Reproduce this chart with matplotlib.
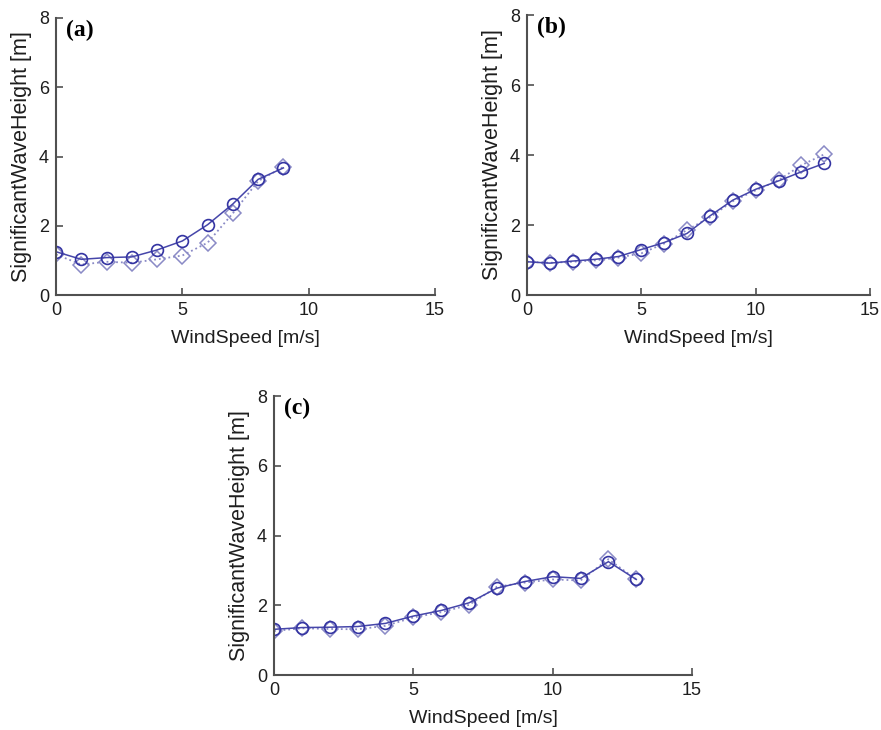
import numpy as np
import matplotlib
matplotlib.use("Agg")
import matplotlib.pyplot as plt

plt.rcParams['font.family'] = ['Liberation Sans', 'DejaVu Sans']

# wind speed bins [m/s]
wind_a = [0, 1, 2, 3, 4, 5, 6, 7, 8, 9]
wind_bc = [0, 1, 2, 3, 4, 5, 6, 7, 8, 9, 10, 11, 12, 13]

# panel (a)
hs_a_solid = [1.25, 1.03, 1.08, 1.10, 1.30, 1.56, 2.03, 2.63, 3.34, 3.67]
hs_a_dot = [1.17, 0.88, 0.96, 0.93, 1.03, 1.14, 1.51, 2.36, 3.29, 3.70]

# panel (b)
hs_b_solid = [0.95, 0.91, 0.97, 1.02, 1.10, 1.30, 1.50, 1.76, 2.26, 2.71, 3.02, 3.26, 3.52, 3.76]
hs_b_dot = [0.95, 0.92, 0.95, 0.99, 1.07, 1.19, 1.47, 1.86, 2.22, 2.68, 2.99, 3.28, 3.71, 4.02]

# panel (c)
hs_c_solid = [1.31, 1.36, 1.37, 1.39, 1.48, 1.69, 1.85, 2.07, 2.49, 2.68, 2.82, 2.77, 3.25, 2.74]
hs_c_dot = [1.26, 1.34, 1.32, 1.31, 1.41, 1.65, 1.80, 2.01, 2.53, 2.65, 2.74, 2.71, 3.32, 2.74]

panels = [
    ("(a)", wind_a, hs_a_solid, hs_a_dot),
    ("(b)", wind_bc, hs_b_solid, hs_b_dot),
    ("(c)", wind_bc, hs_c_solid, hs_c_dot),
]

W, H = 881, 730
# axes boxes in pixels: left, top, right, bottom
boxes = [(56, 18, 435, 295), (527, 15, 870, 295), (274, 396, 692, 675)]

fig = plt.figure(figsize=(W / 100, H / 100), dpi=100)

solid_col = "#4646aa"
mark_col = "#3434a2"
dot_col = "#8a8ac6"
axis_col = "#505050"
text_col = "#1e1e1e"

for (label, x, ys, yd), (l, t, r, b) in zip(panels, boxes):
    ax = fig.add_axes([l / W, 1 - b / H, (r - l) / W, (b - t) / H])
    ax.plot(x, yd, ':', color=dot_col, lw=1.3, marker='D', ms=8.5,
            mfc='none', mec=dot_col, mew=1.1)
    ax.plot(x, ys, '-', color=solid_col, lw=1.1, marker='o', ms=8.5,
            mfc='none', mec=mark_col, mew=1.2)
    ax.set_xlim(0, 15)
    ax.set_ylim(0, 8)
    ax.set_xticks([0, 5, 10, 15])
    ax.set_yticks([0, 2, 4, 6, 8])
    for s in ['top', 'right']:
        ax.spines[s].set_visible(False)
    for s in ['left', 'bottom']:
        ax.spines[s].set_color(axis_col)
        ax.spines[s].set_linewidth(1.5)
    ax.tick_params(direction='in', length=5, width=1.2, color=axis_col,
                   labelsize=13, labelcolor=text_col, pad=5)
    ax.set_xlabel("WindSpeed [m/s]", fontsize=14, color=text_col, labelpad=8)
    ax.set_ylabel("SignificantWaveHeight [m]", fontsize=15.5, color=text_col,
                  labelpad=5)
    # panel tag, a few pixels right of the y axis
    ax.text(10 / (r - l), 0.995, label, transform=ax.transAxes, ha='left', va='top',
            fontsize=17, fontweight='bold', family='Liberation Serif')

fig.savefig("out.png", dpi=100)
